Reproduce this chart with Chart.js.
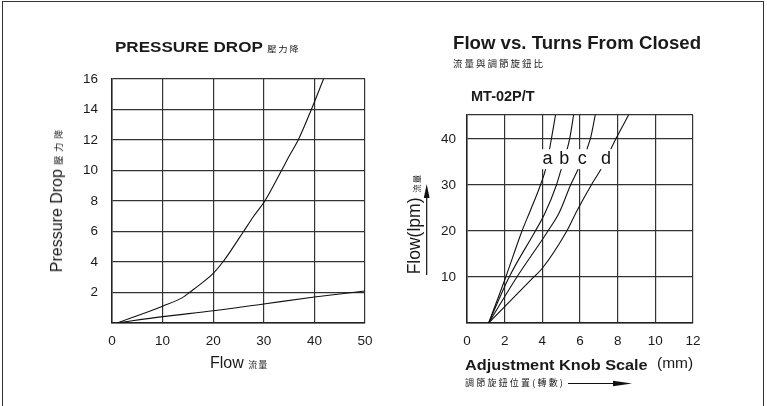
<!DOCTYPE html>
<html>
<head>
<meta charset="utf-8">
<script src="https://cdn.jsdelivr.net/npm/chart.js@4.4.1/dist/chart.umd.min.js"></script>
<style>
  html,body{margin:0;padding:0;background:#fff;}
  #wrap{position:relative;width:767px;height:406px;overflow:hidden;background:#fff;font-family:"Liberation Sans",Arial,sans-serif;color:#1a1a1a;}
  .frame{position:absolute;left:2px;top:1px;width:760px;height:420px;border:1.5px solid #333;}
  .t{position:absolute;white-space:nowrap;}
  .cj{font-family:"Noto Sans CJK TC","Noto Sans CJK SC",sans-serif;font-weight:normal;}
  canvas{position:absolute;top:0;}
</style>
</head>
<body>
<div id="wrap">
  <div class="frame"></div>
  <canvas id="c1" width="383" height="406" style="left:0"></canvas>
  <canvas id="c2" width="384" height="406" style="left:383px"></canvas>

  <div class="t" style="left:115px;top:38px;font-weight:bold;font-size:15.5px;line-height:17px;transform:scaleX(1.1);transform-origin:0 50%;">PRESSURE DROP <span class="cj" style="font-size:8.5px;letter-spacing:1.5px;">壓力降</span></div>
  <div class="t" style="left:58px;top:199px;font-size:16px;line-height:18px;transform:translate(-50%,-50%) rotate(-90deg);">Pressure Drop <span class="cj" style="font-size:9px;letter-spacing:4px;">壓力降</span></div>
  <div class="t" style="left:210px;top:354px;font-size:16px;line-height:18px;">Flow <span class="cj" style="font-size:9px;letter-spacing:1px;">流量</span></div>

  <div class="t" style="left:453px;top:34px;font-weight:bold;font-size:18px;line-height:19px;transform:scaleX(1.035);transform-origin:0 50%;">Flow vs. Turns From Closed</div>
  <div class="t cj" style="left:453px;top:57px;font-size:9.5px;line-height:12px;letter-spacing:2px;">流量與調節旋鈕比</div>
  <div class="t" style="left:471px;top:88px;font-weight:bold;font-size:14.5px;line-height:16px;">MT-02P/T</div>
  <div class="t" style="left:415px;top:224px;font-size:17.5px;line-height:19px;transform:translate(-50%,-50%) rotate(-90deg);">Flow(lpm) <span class="cj" style="font-size:8.5px;letter-spacing:1px;">流量</span></div>
  <div class="t" style="left:465px;top:356px;font-weight:bold;font-size:15.5px;line-height:18px;transform:scaleX(1.05);transform-origin:0 50%;">Adjustment Knob Scale</div>
  <div class="t" style="left:657px;top:354px;font-size:15.5px;line-height:18px;">(mm)</div>
  <div class="t" style="left:465px;top:377px;font-size:9px;line-height:12px;"><span class="cj" style="letter-spacing:2.2px;">調節旋鈕位置(轉數)</span></div>

  <svg width="767" height="406" style="position:absolute;left:0;top:0;pointer-events:none">
    <line x1="426.7" y1="275" x2="426.7" y2="196" stroke="#111" stroke-width="1.2"/>
    <polygon points="426.7,184 423.8,198 429.6,198" fill="#111"/>
    <line x1="568" y1="383.5" x2="618" y2="383.5" stroke="#111" stroke-width="1.2"/>
    <polygon points="632,383.5 613,380.8 613,386.2" fill="#111"/>
  </svg>
</div>

<script>
// ---------- Left chart: Pressure drop ----------
const flowTicks = [0, 10, 20, 30, 40, 50];
const pdTicks = [0, 2, 4, 6, 8, 10, 12, 14, 16];
const pdCurveFlow = [1, 10, 14, 15.5, 17.3, 20, 21.9, 23.4, 26, 28, 30.2, 33.5, 35.1, 36.8, 39.4, 41.8];
const pdCurveDrop = [0, 1.1, 1.68, 2.05, 2.5, 3.25, 4, 4.7, 6, 7, 8, 10, 11, 12, 14, 16];
const pdLineFlow = [1, 10, 20, 30, 40, 50];
const pdLineDrop = [0, 0.42, 0.8, 1.25, 1.7, 2.1];

// ---------- Right chart: Flow vs turns ----------
const knobTicks = [0, 2, 4, 6, 8, 10, 12];
const flowAxisTicks = [0, 10, 20, 30, 40];
const flowAxisMax = 45.2;
const seriesNames = ['a', 'b', 'c', 'd'];
const aKnob = [1.15, 2.06, 2.92, 3.36, 3.9, 4.17, 4.48, 4.7];
const aFlow = [0, 10, 20, 24.4, 30, 33.4, 40, 45.2];
const bKnob = [1.15, 2.24, 3.63, 4.1, 4.75, 5.0, 5.45, 5.66];
const bFlow = [0, 10, 20, 23.5, 30, 33.4, 40, 45.2];
const cKnob = [1.15, 2.65, 4.3, 4.9, 5.5, 5.9, 6.55, 6.81];
const cFlow = [0, 10, 20, 24, 30, 33.4, 40, 45.2];
const dKnob = [1.15, 3.55, 4.0, 5.3, 5.84, 6.6, 7.11, 7.9, 8.58];
const dFlow = [0, 10, 11.9, 20, 24.4, 30, 33.4, 40, 45.2];
const labelKnob = [4.28, 5.17, 6.12, 7.38];
const labelFlow = [35.6, 35.6, 35.6, 35.6];

const pts = (xs, ys) => xs.map((x, i) => ({x, y: ys[i]}));
const FONT = '"Liberation Sans", Arial, sans-serif';
const GRID = '#333';

function lineDs(data) {
  return {data, borderColor: '#111', borderWidth: 1.1, pointRadius: 0,
          cubicInterpolationMode: 'monotone', fill: false};
}
function tickFont() { return {family: FONT, size: 13.5}; }

function makeScale(opts) {
  return Object.assign({
    type: 'linear',
    grid: {color: GRID, lineWidth: 1.2, drawTicks: false},
    border: {display: true, color: '#222', width: 1.5},
    ticks: {color: '#1a1a1a', font: tickFont()}
  }, opts);
}

Chart.defaults.font.family = FONT;

new Chart(document.getElementById('c1'), {
  type: 'line',
  data: {datasets: [lineDs(pts(pdCurveFlow, pdCurveDrop)), lineDs(pts(pdLineFlow, pdLineDrop))]},
  options: {
    responsive: false, animation: false, devicePixelRatio: 1,
    layout: {padding: {left: 0, top: 79, right: 18, bottom: 53}},
    plugins: {legend: {display: false}, tooltip: {enabled: false}},
    scales: {
      x: makeScale({min: flowTicks[0], max: flowTicks[flowTicks.length - 1],
        afterBuildTicks: s => { s.ticks = flowTicks.map(v => ({value: v})); },
        afterFit: s => { s.height = 30; },
        ticks: {color: '#1a1a1a', font: tickFont(), padding: 10, maxRotation: 0}}),
      y: makeScale({min: pdTicks[0], max: pdTicks[pdTicks.length - 1],
        afterBuildTicks: s => { s.ticks = pdTicks.map(v => ({value: v})); },
        afterFit: s => { s.width = 112; },
        ticks: {color: '#1a1a1a', font: tickFont(), padding: 14,
                callback: v => (v === 0 ? '' : v)}})
    }
  }
});

const letterPlugin = {
  id: 'letters',
  afterDatasetsDraw(chart) {
    const {ctx, scales: {x, y}} = chart;
    ctx.save();
    ctx.font = '18px ' + FONT;
    ctx.textAlign = 'center';
    ctx.textBaseline = 'middle';
    seriesNames.forEach((n, i) => {
      const px = x.getPixelForValue(labelKnob[i]);
      const py = y.getPixelForValue(labelFlow[i]);
      const w = ctx.measureText(n).width;
      ctx.fillStyle = '#fff';
      ctx.fillRect(px - w / 2 - 1, py - 10, w + 2, 20);
      ctx.fillStyle = '#111';
      ctx.fillText(n, px, py);
    });
    ctx.restore();
  }
};

new Chart(document.getElementById('c2'), {
  type: 'line',
  data: {datasets: [
    lineDs(pts(aKnob, aFlow)), lineDs(pts(bKnob, bFlow)),
    lineDs(pts(cKnob, cFlow)), lineDs(pts(dKnob, dFlow))]},
  options: {
    responsive: false, animation: false, devicePixelRatio: 1,
    layout: {padding: {left: 0, top: 115, right: 74, bottom: 53}},
    plugins: {legend: {display: false}, tooltip: {enabled: false}},
    scales: {
      x: makeScale({min: knobTicks[0], max: knobTicks[knobTicks.length - 1],
        afterBuildTicks: s => { s.ticks = knobTicks.map(v => ({value: v})); },
        afterFit: s => { s.height = 30; },
        ticks: {color: '#1a1a1a', font: tickFont(), padding: 10, maxRotation: 0}}),
      y: makeScale({min: 0, max: flowAxisMax,
        afterBuildTicks: s => { s.ticks = flowAxisTicks.concat([flowAxisMax]).map(v => ({value: v})); },
        afterFit: s => { s.width = 84; },
        ticks: {color: '#1a1a1a', font: tickFont(), padding: 11,
                callback: v => (flowAxisTicks.includes(v) && v !== 0 ? v : '')}})
    }
  },
  plugins: [letterPlugin]
});
</script>
</body>
</html>
